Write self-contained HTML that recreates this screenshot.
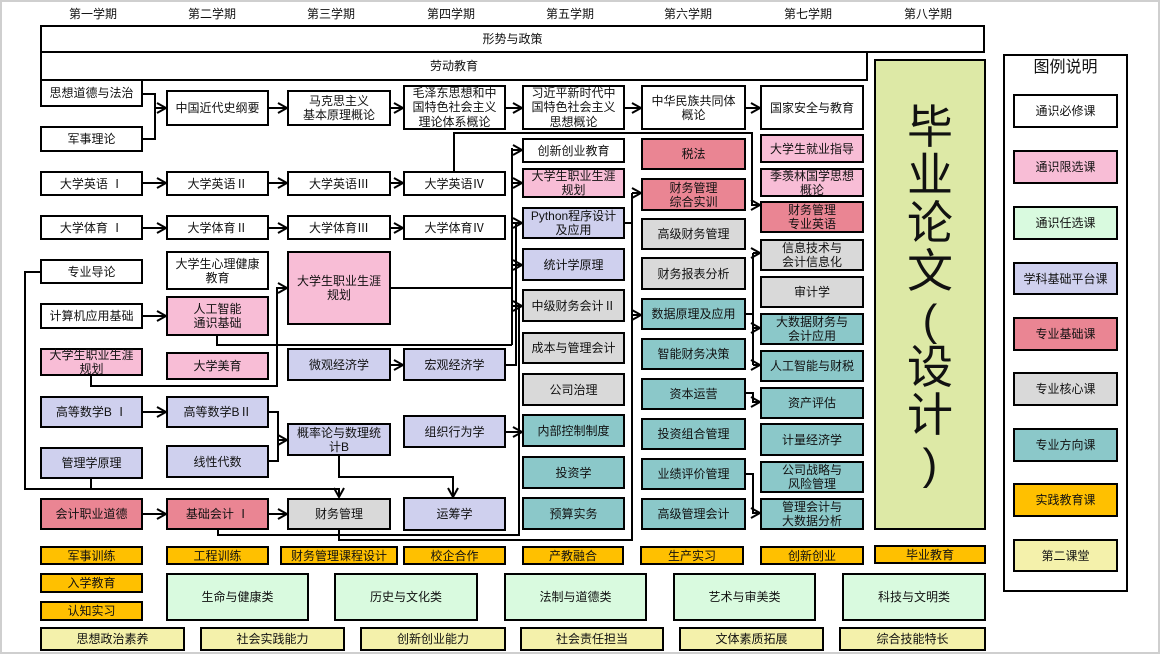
<!DOCTYPE html>
<html>
<head>
<meta charset="utf-8">
<style>
  html,body{margin:0;padding:0;background:#fff;}
  #root{position:relative;width:1160px;height:654px;overflow:hidden;background:#fff;
        box-sizing:border-box;border:2px solid #cfcfcf;
        font-family:"Liberation Sans","Noto Sans CJK SC",sans-serif;color:#111;}
  .b{position:absolute;box-sizing:border-box;border:2px solid #000;display:flex;
     align-items:center;justify-content:center;text-align:center;font-size:12px;
     line-height:14px;white-space:nowrap;overflow:visible;}
  .h{position:absolute;top:6px;width:80px;text-align:center;font-size:12px;line-height:16px;}
  .w{background:#fff;}
  .pk{background:#f8bdd6;}
  .gr{background:#d9fadf;}
  .lv{background:#cfd0ee;}
  .rd{background:#ea8593;}
  .gy{background:#d9d9d9;}
  .tl{background:#8bc8c9;}
  .or{background:#ffc000;}
  .yl{background:#f4f1ab;}
  svg{position:absolute;left:0;top:0;}
  .vt{display:block;text-align:center;font-size:46px;line-height:48px;}
  .vt div{height:48px;}
  .par{font-family:"Liberation Sans",sans-serif;font-size:44px;}
</style>
</head>
<body>
<div id="root">
<div style="position:absolute;left:-2px;top:-2px;width:1160px;height:654px;">

<!-- semester headers -->
<div class="h" style="left:53px">第一学期</div>
<div class="h" style="left:172px">第二学期</div>
<div class="h" style="left:291px">第三学期</div>
<div class="h" style="left:411px">第四学期</div>
<div class="h" style="left:530px">第五学期</div>
<div class="h" style="left:648px">第六学期</div>
<div class="h" style="left:768px">第七学期</div>
<div class="h" style="left:888px">第八学期</div>

<!-- top bars -->
<div class="b w" style="left:40px;top:25px;width:945px;height:28px;">形势与政策</div>
<div class="b w" style="left:40px;top:51px;width:828px;height:30px;">劳动教育</div>

<!-- Column 1 -->
<div class="b w" style="left:40px;top:79px;width:103px;height:28px;">思想道德与法治</div>
<div class="b w" style="left:40px;top:126px;width:103px;height:26px;">军事理论</div>
<div class="b w" style="left:40px;top:171px;width:103px;height:25px;">大学英语 Ⅰ</div>
<div class="b w" style="left:40px;top:215px;width:103px;height:25px;">大学体育 Ⅰ</div>
<div class="b w" style="left:40px;top:259px;width:103px;height:25px;">专业导论</div>
<div class="b w" style="left:40px;top:303px;width:103px;height:26px;">计算机应用基础</div>
<div class="b pk" style="left:40px;top:348px;width:103px;height:28px;">大学生职业生涯<br>规划</div>
<div class="b lv" style="left:40px;top:396px;width:103px;height:32px;">高等数学B Ⅰ</div>
<div class="b lv" style="left:40px;top:447px;width:103px;height:32px;">管理学原理</div>
<div class="b rd" style="left:40px;top:498px;width:103px;height:32px;">会计职业道德</div>

<!-- Column 2 -->
<div class="b w" style="left:166px;top:90px;width:103px;height:36px;">中国近代史纲要</div>
<div class="b w" style="left:166px;top:171px;width:103px;height:25px;">大学英语Ⅱ</div>
<div class="b w" style="left:166px;top:215px;width:103px;height:25px;">大学体育Ⅱ</div>
<div class="b w" style="left:166px;top:251px;width:103px;height:39px;">大学生心理健康<br>教育</div>
<div class="b pk" style="left:166px;top:296px;width:103px;height:40px;">人工智能<br>通识基础</div>
<div class="b pk" style="left:166px;top:352px;width:103px;height:28px;">大学美育</div>
<div class="b lv" style="left:166px;top:396px;width:103px;height:32px;">高等数学BⅡ</div>
<div class="b lv" style="left:166px;top:445px;width:103px;height:33px;">线性代数</div>
<div class="b rd" style="left:166px;top:498px;width:103px;height:32px;">基础会计 Ⅰ</div>

<!-- Column 3 -->
<div class="b w" style="left:287px;top:90px;width:104px;height:36px;">马克思主义<br>基本原理概论</div>
<div class="b w" style="left:287px;top:171px;width:104px;height:25px;">大学英语Ⅲ</div>
<div class="b w" style="left:287px;top:215px;width:104px;height:25px;">大学体育Ⅲ</div>
<div class="b pk" style="left:287px;top:251px;width:104px;height:74px;">大学生职业生涯<br>规划</div>
<div class="b lv" style="left:287px;top:348px;width:104px;height:33px;">微观经济学</div>
<div class="b lv" style="left:287px;top:423px;width:104px;height:33px;">概率论与数理统<br>计B</div>
<div class="b gy" style="left:287px;top:498px;width:104px;height:32px;">财务管理</div>

<!-- Column 4 -->
<div class="b w" style="left:403px;top:85px;width:103px;height:45px;line-height:14.5px;">毛泽东思想和中<br>国特色社会主义<br>理论体系概论</div>
<div class="b w" style="left:403px;top:171px;width:103px;height:25px;">大学英语Ⅳ</div>
<div class="b w" style="left:403px;top:215px;width:103px;height:25px;">大学体育Ⅳ</div>
<div class="b lv" style="left:403px;top:348px;width:103px;height:33px;">宏观经济学</div>
<div class="b lv" style="left:403px;top:415px;width:103px;height:33px;">组织行为学</div>
<div class="b lv" style="left:403px;top:497px;width:103px;height:34px;">运筹学</div>

<!-- Column 5 -->
<div class="b w" style="left:522px;top:85px;width:103px;height:45px;line-height:14.5px;">习近平新时代中<br>国特色社会主义<br>思想概论</div>
<div class="b w" style="left:522px;top:138px;width:103px;height:25px;">创新创业教育</div>
<div class="b pk" style="left:522px;top:168px;width:103px;height:30px;">大学生职业生涯<br>规划</div>
<div class="b lv" style="left:522px;top:207px;width:103px;height:32px;">Python程序设计<br>及应用</div>
<div class="b lv" style="left:522px;top:248px;width:103px;height:33px;">统计学原理</div>
<div class="b gy" style="left:522px;top:289px;width:103px;height:33px;">中级财务会计Ⅱ</div>
<div class="b gy" style="left:522px;top:332px;width:103px;height:32px;">成本与管理会计</div>
<div class="b gy" style="left:522px;top:373px;width:103px;height:33px;">公司治理</div>
<div class="b tl" style="left:522px;top:414px;width:103px;height:33px;">内部控制制度</div>
<div class="b tl" style="left:522px;top:456px;width:103px;height:33px;">投资学</div>
<div class="b tl" style="left:522px;top:497px;width:103px;height:33px;">预算实务</div>

<!-- Column 6 -->
<div class="b w" style="left:641px;top:85px;width:105px;height:45px;">中华民族共同体<br>概论</div>
<div class="b rd" style="left:641px;top:138px;width:105px;height:32px;">税法</div>
<div class="b rd" style="left:641px;top:178px;width:105px;height:33px;">财务管理<br>综合实训</div>
<div class="b gy" style="left:641px;top:218px;width:105px;height:32px;">高级财务管理</div>
<div class="b gy" style="left:641px;top:257px;width:105px;height:33px;">财务报表分析</div>
<div class="b tl" style="left:641px;top:298px;width:105px;height:32px;">数据原理及应用</div>
<div class="b tl" style="left:641px;top:338px;width:105px;height:32px;">智能财务决策</div>
<div class="b tl" style="left:641px;top:378px;width:105px;height:32px;">资本运营</div>
<div class="b tl" style="left:641px;top:418px;width:105px;height:32px;">投资组合管理</div>
<div class="b tl" style="left:641px;top:458px;width:105px;height:32px;">业绩评价管理</div>
<div class="b tl" style="left:641px;top:498px;width:105px;height:32px;">高级管理会计</div>

<!-- Column 7 -->
<div class="b w" style="left:760px;top:85px;width:104px;height:45px;">国家安全与教育</div>
<div class="b pk" style="left:760px;top:134px;width:104px;height:29px;">大学生就业指导</div>
<div class="b pk" style="left:760px;top:168px;width:104px;height:29px;">季羡林国学思想<br>概论</div>
<div class="b rd" style="left:760px;top:201px;width:104px;height:32px;">财务管理<br>专业英语</div>
<div class="b gy" style="left:760px;top:239px;width:104px;height:32px;">信息技术与<br>会计信息化</div>
<div class="b gy" style="left:760px;top:276px;width:104px;height:32px;">审计学</div>
<div class="b tl" style="left:760px;top:313px;width:104px;height:32px;">大数据财务与<br>会计应用</div>
<div class="b tl" style="left:760px;top:350px;width:104px;height:32px;">人工智能与财税</div>
<div class="b tl" style="left:760px;top:387px;width:104px;height:32px;">资产评估</div>
<div class="b tl" style="left:760px;top:423px;width:104px;height:33px;">计量经济学</div>
<div class="b tl" style="left:760px;top:461px;width:104px;height:32px;">公司战略与<br>风险管理</div>
<div class="b tl" style="left:760px;top:498px;width:104px;height:32px;">管理会计与<br>大数据分析</div>

<!-- Column 8 big -->
<div class="b" style="left:874px;top:59px;width:112px;height:471px;background:#dde9a6;">
  <div class="vt">
    <div>毕</div><div>业</div><div>论</div><div>文</div>
    <div><span class="par">(</span></div>
    <div>设</div><div>计</div>
    <div><span class="par">)</span></div>
  </div>
</div>

<!-- practice row -->
<div class="b or" style="left:40px;top:546px;width:103px;height:19px;">军事训练</div>
<div class="b or" style="left:166px;top:546px;width:103px;height:19px;">工程训练</div>
<div class="b or" style="left:280px;top:546px;width:118px;height:19px;">财务管理课程设计</div>
<div class="b or" style="left:403px;top:546px;width:103px;height:19px;">校企合作</div>
<div class="b or" style="left:522px;top:546px;width:102px;height:19px;">产教融合</div>
<div class="b or" style="left:640px;top:546px;width:104px;height:19px;">生产实习</div>
<div class="b or" style="left:760px;top:546px;width:104px;height:19px;">创新创业</div>
<div class="b or" style="left:874px;top:545px;width:112px;height:19px;">毕业教育</div>
<div class="b or" style="left:40px;top:573px;width:103px;height:20px;">入学教育</div>
<div class="b or" style="left:40px;top:601px;width:103px;height:20px;">认知实习</div>

<!-- green row -->
<div class="b gr" style="left:166px;top:573px;width:143px;height:48px;">生命与健康类</div>
<div class="b gr" style="left:334px;top:573px;width:144px;height:48px;">历史与文化类</div>
<div class="b gr" style="left:504px;top:573px;width:143px;height:48px;">法制与道德类</div>
<div class="b gr" style="left:673px;top:573px;width:143px;height:48px;">艺术与审美类</div>
<div class="b gr" style="left:842px;top:573px;width:144px;height:48px;">科技与文明类</div>

<!-- second classroom row -->
<div class="b yl" style="left:40px;top:627px;width:145px;height:24px;">思想政治素养</div>
<div class="b yl" style="left:200px;top:627px;width:145px;height:24px;">社会实践能力</div>
<div class="b yl" style="left:360px;top:627px;width:146px;height:24px;">创新创业能力</div>
<div class="b yl" style="left:520px;top:627px;width:144px;height:24px;">社会责任担当</div>
<div class="b yl" style="left:679px;top:627px;width:145px;height:24px;">文体素质拓展</div>
<div class="b yl" style="left:839px;top:627px;width:147px;height:24px;">综合技能特长</div>

<!-- legend -->
<div class="b w" style="left:1003px;top:54px;width:125px;height:538px;"></div>
<div style="position:absolute;left:1003px;top:58px;width:125px;text-align:center;font-size:16px;line-height:20px;">图例说明</div>
<div class="b w" style="left:1013px;top:94px;width:105px;height:34px;">通识必修课</div>
<div class="b pk" style="left:1013px;top:150px;width:105px;height:34px;">通识限选课</div>
<div class="b gr" style="left:1013px;top:206px;width:105px;height:34px;">通识任选课</div>
<div class="b lv" style="left:1013px;top:262px;width:105px;height:33px;">学科基础平台课</div>
<div class="b rd" style="left:1013px;top:317px;width:105px;height:34px;">专业基础课</div>
<div class="b gy" style="left:1013px;top:372px;width:105px;height:34px;">专业核心课</div>
<div class="b tl" style="left:1013px;top:428px;width:105px;height:34px;">专业方向课</div>
<div class="b or" style="left:1013px;top:483px;width:105px;height:34px;">实践教育课</div>
<div class="b yl" style="left:1013px;top:539px;width:105px;height:33px;">第二课堂</div>

<!-- connectors -->
<svg width="1160" height="654" viewBox="0 0 1160 654">
  <defs>
    <marker id="a" markerUnits="userSpaceOnUse" markerWidth="12" markerHeight="14" refX="10" refY="6" orient="auto">
      <path d="M1,1 L10,6 L1,11" fill="none" stroke="#000" stroke-width="2"/>
    </marker>
  </defs>
  <g fill="none" stroke="#000" stroke-width="2">
    <path d="M143,94 H155 V139 H143"/>
    <path d="M155,108 H166" marker-end="url(#a)"/>
    <path d="M269,108 H287" marker-end="url(#a)"/>
    <path d="M391,108 H403" marker-end="url(#a)"/>
    <path d="M506,108 H522" marker-end="url(#a)"/>
    <path d="M625,108 H641" marker-end="url(#a)"/>
    <path d="M746,108 H760" marker-end="url(#a)"/>
    <path d="M143,183 H166" marker-end="url(#a)"/>
    <path d="M269,183 H287" marker-end="url(#a)"/>
    <path d="M391,183 H403" marker-end="url(#a)"/>
    <path d="M143,228 H166" marker-end="url(#a)"/>
    <path d="M269,228 H287" marker-end="url(#a)"/>
    <path d="M391,228 H403" marker-end="url(#a)"/>
    <path d="M454,171 V133 H752 V205 H760" marker-end="url(#a)"/>
    <path d="M143,316 H166" marker-end="url(#a)"/>
    <path d="M91,376 V386 H277 V288 H287" marker-end="url(#a)"/>
    <path d="M391,288 H512"/>
    <path d="M217,336 V345 H512"/>
    <path d="M512,148 V345"/>
    <path d="M512,150 H522" marker-end="url(#a)"/>
    <path d="M512,183 H522" marker-end="url(#a)"/>
    <path d="M512,223 H522" marker-end="url(#a)"/>
    <path d="M512,265 H522" marker-end="url(#a)"/>
    <path d="M506,365 H516 V223"/>
    <path d="M391,365 H403" marker-end="url(#a)"/>
    <path d="M506,432 H522" marker-end="url(#a)"/>
    <path d="M218,530 V535 H519 V306"/>
    <path d="M513,306 H522" marker-end="url(#a)"/>
    <path d="M143,514 H166" marker-end="url(#a)"/>
    <path d="M269,514 H287" marker-end="url(#a)"/>
    <path d="M143,412 H166" marker-end="url(#a)"/>
    <path d="M269,412 H278 V461 H269"/>
    <path d="M278,440 H287" marker-end="url(#a)"/>
    <path d="M339,456 V477 H453 V497" marker-end="url(#a)"/>
    <path d="M40,272 H25 V489 H339 V497" marker-end="url(#a)"/>
    <path d="M91,479 V489"/>
    <path d="M339,530 V540 H632 V193"/>
    <path d="M632,193 H641" marker-end="url(#a)"/>
    <path d="M632,315 H641" marker-end="url(#a)"/>
    <path d="M625,223 H632"/>
    <path d="M746,314 H753"/>
    <path d="M753,253 V365"/>
    <path d="M753,253 H760" marker-end="url(#a)"/>
    <path d="M753,328 H760" marker-end="url(#a)"/>
    <path d="M753,365 H760" marker-end="url(#a)"/>
    <path d="M746,393 H753 V402 H760" marker-end="url(#a)"/>
    <path d="M746,474 H753 V513 H760" marker-end="url(#a)"/>
  </g>
</svg>

</div>
</div>
</body>
</html>
